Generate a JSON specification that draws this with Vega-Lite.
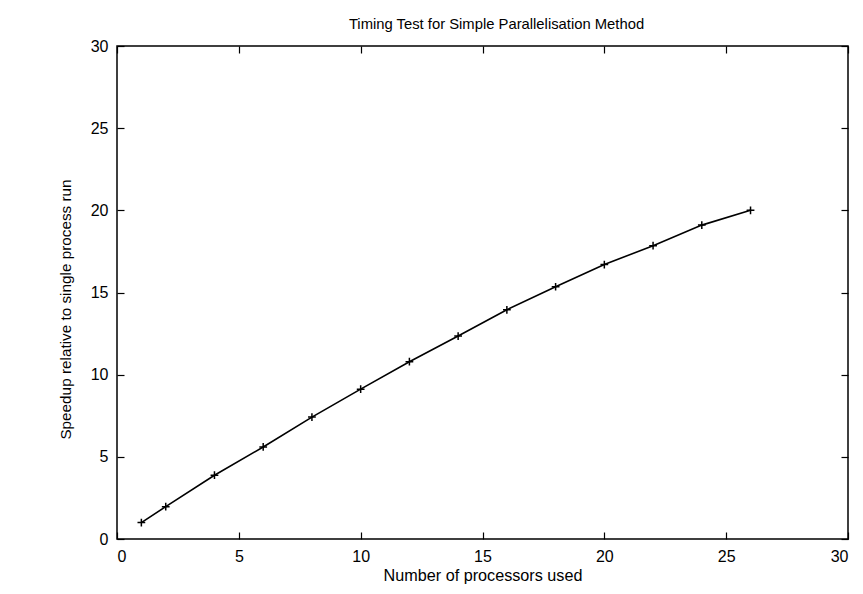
{
  "$schema": "https://vega.github.io/schema/vega-lite/v6.json",
  "width": 731,
  "height": 493,
  "autosize": {"type": "none"},
  "padding": {"left": 117, "top": 46, "right": 15, "bottom": 55},
  "background": "white",
  "title": {
    "text": "Timing Test for Simple Parallelisation Method",
    "font": "Liberation Sans",
    "fontSize": 14.8,
    "fontWeight": "normal",
    "color": "black",
    "anchor": "middle",
    "offset": 6,
    "dx": 14
  },
  "config": {
    "view": {"stroke": "black", "strokeWidth": 1.5},
    "axis": {
      "domain": false,
      "grid": false,
      "tickColor": "black",
      "tickSize": 7,
      "offset": -7,
      "tickWidth": 1.2,
      "labelFont": "Liberation Sans",
      "labelFontSize": 16,
      "labelColor": "black",
      "titleFont": "Liberation Sans",
      "titleFontWeight": "normal",
      "titleColor": "black"
    }
  },
  "data": {
    "values": [
      {"procs": 1, "speedup": 1.0},
      {"procs": 2, "speedup": 1.97},
      {"procs": 4, "speedup": 3.88},
      {"procs": 6, "speedup": 5.6},
      {"procs": 8, "speedup": 7.42},
      {"procs": 10, "speedup": 9.12},
      {"procs": 12, "speedup": 10.79},
      {"procs": 14, "speedup": 12.35},
      {"procs": 16, "speedup": 13.95},
      {"procs": 18, "speedup": 15.35},
      {"procs": 20, "speedup": 16.7},
      {"procs": 22, "speedup": 17.85},
      {"procs": 24, "speedup": 19.1},
      {"procs": 26, "speedup": 20.0}
    ]
  },
  "layer": [
    {
      "mark": {"type": "line", "color": "black", "strokeWidth": 1.6},
      "encoding": {
        "x": {
          "field": "procs",
          "type": "quantitative",
          "scale": {"domain": [0, 30], "nice": false, "zero": false},
          "axis": {
            "values": [0, 5, 10, 15, 20, 25, 30],
            "title": "Number of processors used",
            "titleFontSize": 16.2,
            "labelPadding": 9,
            "titlePadding": 3
          }
        },
        "y": {
          "field": "speedup",
          "type": "quantitative",
          "scale": {"domain": [0, 30], "nice": false, "zero": false},
          "axis": {
            "values": [0, 5, 10, 15, 20, 25, 30],
            "title": "Speedup relative to single process run",
            "titleFontSize": 15.3,
            "labelPadding": 9,
            "titleX": -59,
            "titleY": 263,
            "titleAlign": "center",
            "titleBaseline": "middle"
          }
        }
      }
    },
    {
      "mark": {
        "type": "point",
        "shape": "M-1,0L1,0M0,-1L0,1",
        "filled": false,
        "stroke": "black",
        "strokeWidth": 1.5,
        "size": 60,
        "opacity": 1
      },
      "encoding": {
        "x": {"field": "procs", "type": "quantitative", "axis": null},
        "y": {"field": "speedup", "type": "quantitative", "axis": null}
      }
    },
    {
      "mark": {"type": "point", "opacity": 0},
      "encoding": {
        "x": {
          "field": "procs",
          "type": "quantitative",
          "axis": {"orient": "top", "values": [0, 5, 10, 15, 20, 25, 30], "labels": false, "title": null}
        },
        "y": {
          "field": "speedup",
          "type": "quantitative",
          "axis": {"orient": "right", "values": [0, 5, 10, 15, 20, 25, 30], "labels": false, "title": null}
        }
      }
    }
  ],
  "resolve": {"axis": {"x": "independent", "y": "independent"}}
}
